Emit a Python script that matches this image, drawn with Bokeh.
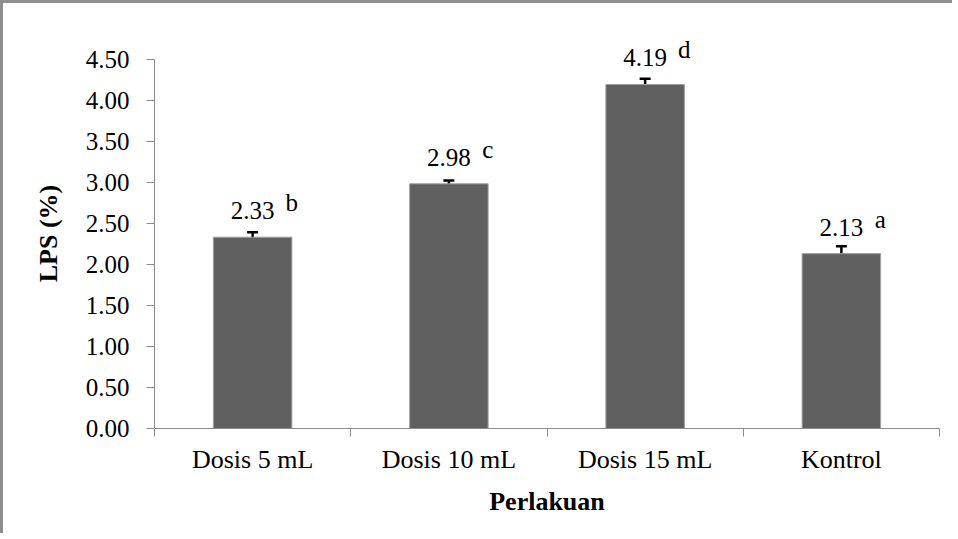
from bokeh.plotting import figure
from bokeh.models import ColumnDataSource, FixedTicker, Whisker, TeeHead, NumeralTickFormatter, LabelSet
from bokeh.embed import file_html
from bokeh.resources import INLINE

categories = ["Dosis 5 mL", "Dosis 10 mL", "Dosis 15 mL", "Kontrol"]
values = [2.33, 2.98, 4.19, 2.13]
errors = [0.06, 0.04, 0.07, 0.09]
letters = ["b", "c", "d", "a"]
y_ticks = [0.0, 0.5, 1.0, 1.5, 2.0, 2.5, 3.0, 3.5, 4.0, 4.5]

xs = [i + 0.5 for i in range(len(categories))]
src = ColumnDataSource(dict(
    x=xs, top=values,
    upper=[v + e for v, e in zip(values, errors)],
    lower=[v - e for v, e in zip(values, errors)],
    vlabel=["%.2f" % v for v in values],
    letter=letters,
))

FONT = "Liberation Serif"
p = figure(width=952, height=533, output_backend="svg", toolbar_location=None,
           x_range=(0, len(categories)), y_range=(0, 4.75),
           min_border_left=151, min_border_right=16, min_border_top=35, min_border_bottom=108)
p.styles = {"border-top": "3px solid #8f8f8f", "border-left": "3px solid #8f8f8f"}
p.outline_line_color = None
p.grid.visible = False

p.vbar(x="x", top="top", width=0.4, bottom=0, source=src,
       fill_color="#606060", line_color="#a0a0a0", line_width=1)

w = Whisker(source=src, base="x", upper="upper", lower="lower",
            line_color="black", line_width=2.5,
            upper_head=TeeHead(size=11, line_width=2.5, line_color="black"),
            lower_head=TeeHead(size=11, line_width=2.5, line_color="black"))
p.add_layout(w)

vl = LabelSet(x="x", y="top", text="vlabel", source=src, text_align="center",
              text_baseline="alphabetic", y_offset=18, text_font=FONT,
              text_font_size="25px", text_color="black")
ll = LabelSet(x="x", y="top", text="letter", source=src, text_align="center",
              text_baseline="alphabetic", x_offset=39, y_offset=26, text_font=FONT,
              text_font_size="25px", text_color="black")
p.add_layout(vl)
p.add_layout(ll)

# y axis
ya = p.yaxis[0]
ya.ticker = FixedTicker(ticks=y_ticks)
ya.bounds = (0, 4.5)
ya.formatter = NumeralTickFormatter(format="0.00")
ya.axis_line_color = "#8c8c8c"
ya.major_tick_line_color = "#8c8c8c"
ya.major_tick_out = 8
ya.major_tick_in = 0
ya.minor_tick_line_color = None
ya.major_label_standoff = 17
ya.major_label_text_font = FONT
ya.major_label_text_font_size = "25px"
ya.major_label_text_color = "black"
ya.axis_label = "LPS (%)"
ya.axis_label_text_font = FONT
ya.axis_label_text_font_style = "bold"
ya.axis_label_text_font_size = "26px"
ya.axis_label_text_color = "black"
ya.axis_label_standoff = 20

# x axis
xa = p.xaxis[0]
xa.ticker = FixedTicker(ticks=xs, minor_ticks=list(range(len(categories) + 1)))
xa.major_label_overrides = {x: c for x, c in zip(xs, categories)}
xa.axis_line_color = "#8c8c8c"
xa.major_tick_line_color = None
xa.major_tick_out = 0
xa.major_tick_in = 0
xa.minor_tick_line_color = "#8c8c8c"
xa.minor_tick_out = 8
xa.minor_tick_in = 0
xa.major_label_standoff = 8
xa.major_label_text_font = FONT
xa.major_label_text_font_size = "26px"
xa.major_label_text_color = "black"
xa.axis_label = "Perlakuan"
xa.axis_label_text_font = FONT
xa.axis_label_text_font_style = "bold"
xa.axis_label_text_font_size = "26px"
xa.axis_label_text_color = "black"
xa.axis_label_standoff = 10

open("out.html", "w").write(file_html(p, INLINE))
